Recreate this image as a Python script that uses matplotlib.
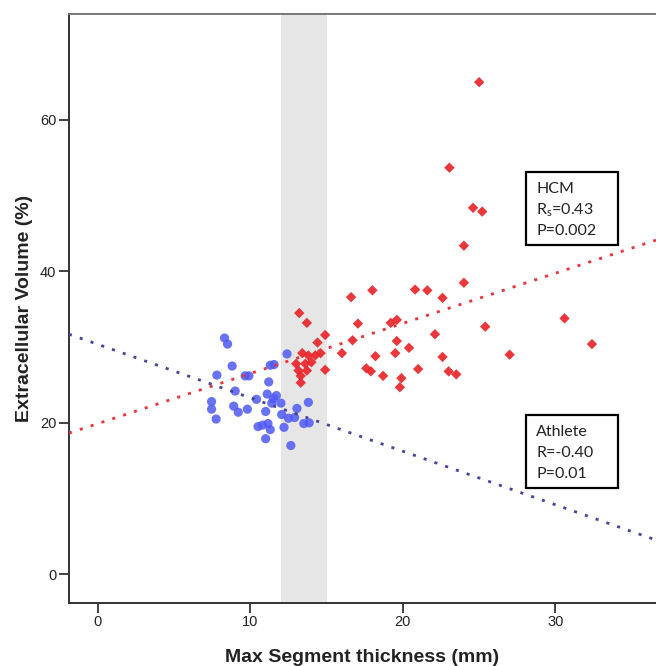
import matplotlib
matplotlib.use("Agg")
import matplotlib.pyplot as plt
from matplotlib.patches import Rectangle
import numpy as np

# ---- data ----
athlete_x = [8.3, 8.5, 12.4, 8.8, 11.3, 11.55, 7.8, 9.65, 9.9, 11.2, 9.0, 11.1,
             10.4, 11.5, 11.4, 12.0, 7.45, 7.45, 8.9, 9.2, 9.8, 11.0, 12.05, 7.75,
             13.8, 13.05, 12.5, 12.9, 12.2, 13.5, 13.85, 10.5, 10.8, 11.15, 11.3,
             11.0, 12.65, 11.7]
athlete_y = [31.2, 30.4, 29.1, 27.5, 27.6, 27.7, 26.3, 26.2, 26.2, 25.4, 24.2, 23.8,
             23.1, 23.2, 22.6, 22.6, 22.8, 21.8, 22.2, 21.4, 21.8, 21.5, 21.1, 20.5,
             22.7, 21.9, 20.6, 20.7, 19.4, 19.9, 20.0, 19.5, 19.7, 19.9, 19.1,
             17.9, 17.0, 23.6]

hcm_x = [25.0, 23.05, 24.6, 25.2, 24.0, 24.0, 21.6, 20.8, 18.0, 16.6, 22.6, 30.6,
         25.4, 22.1, 17.05, 19.2, 19.6, 32.4, 16.7, 19.6, 27.0, 22.6, 16.0, 18.2,
         19.5, 20.4, 17.6, 17.9, 18.7, 21.0, 19.9, 19.8, 23.0, 23.5, 13.2, 13.7,
         14.9, 14.4, 13.4, 13.8, 14.25, 14.6, 13.0, 13.6, 14.0, 13.15, 13.7, 14.9,
         13.3, 13.3]
hcm_y = [65.0, 53.7, 48.4, 47.9, 43.4, 38.5, 37.5, 37.6, 37.5, 36.6, 36.5, 33.8,
         32.7, 31.7, 33.1, 33.2, 33.6, 30.4, 30.9, 30.8, 29.0, 28.7, 29.2, 28.8,
         29.2, 29.9, 27.2, 26.8, 26.2, 27.1, 25.9, 24.7, 26.8, 26.4, 34.5, 33.2,
         31.6, 30.6, 29.2, 28.9, 28.9, 29.2, 27.8, 27.8, 28.0, 26.9, 26.9, 27.0,
         26.2, 25.3]

# fitted lines (intercept, slope)
hcm_fit = (19.9, 0.662)
athlete_fit = (30.36, -0.706)

band = (12.0, 15.0)
x_range = (-1.9, 36.6)
y_range = (-3.8, 74.0)
x_ticks = [0, 10, 20, 30]
y_ticks = [0, 20, 40, 60]

hcm_text = ["HCM", r"R$_\mathregular{s}$=0.43", "P=0.002"]
ath_text = ["Athlete", "R=-0.40", "P=0.01"]

# ---- figure ----
W, H = 656, 666
fig = plt.figure(figsize=(W / 100, H / 100), dpi=100)
ax = fig.add_axes([69 / W, 1 - 603 / H, (W - 69) / W, (603 - 14) / H])

ax.axvspan(band[0], band[1], color="#e6e6e6", zorder=0, lw=0)

ax.scatter(athlete_x, athlete_y, s=44, marker="o", color="#5059f3", alpha=0.85,
           edgecolors="none", zorder=2)
ax.scatter(hcm_x, hcm_y, s=28, marker="D", color="#e8262b", alpha=0.92,
           edgecolors="none", zorder=2)

xl = np.array(x_range)
ax.plot(xl, hcm_fit[0] + hcm_fit[1] * xl, color="#e8343a", lw=2.0,
        linestyle=(0, (1.1, 3.0)), zorder=3)
ax.plot(xl, athlete_fit[0] + athlete_fit[1] * xl, color="#45459a", lw=2.0,
        linestyle=(0, (1.1, 3.0)), zorder=3)

ax.set_xlim(*x_range)
ax.set_ylim(*y_range)
ax.set_xticks(x_ticks)
ax.set_yticks(y_ticks)

for lab in ax.get_xticklabels() + ax.get_yticklabels():
    lab.set_family("Liberation Sans")
    lab.set_fontsize(10.5)
    lab.set_color("#222222")
ax.tick_params(axis="both", direction="out", length=7, width=1.3, color="#333333", pad=2)

for side in ["left", "bottom"]:
    ax.spines[side].set_color("#333333")
    ax.spines[side].set_linewidth(1.4)
ax.spines["top"].set_color("#777777")
ax.spines["top"].set_linewidth(1.4)
ax.spines["right"].set_visible(False)

ax.set_xlabel("Max Segment thickness (mm)", family="Liberation Sans", fontweight="bold",
              fontsize=14, color="#222222", labelpad=14)
ax.set_ylabel("Extracellular Volume (%)", family="Liberation Sans", fontweight="bold",
              fontsize=14, color="#222222", labelpad=5)


def px_box(x0, y0, x1, y1, lines, baselines):
    rect = Rectangle((x0 / W, 1 - y1 / H), (x1 - x0) / W, (y1 - y0) / H,
                     transform=fig.transFigure, facecolor="white", edgecolor="black",
                     lw=1.6, zorder=5)
    fig.patches.append(rect)
    for t, b in zip(lines, baselines):
        fig.text((x0 + 10) / W, 1 - b / H, t, family=["Lato", "DejaVu Sans"], fontsize=11.5,
                 color="#222222", va="baseline", ha="left", zorder=6)


px_box(526, 172, 618, 245, hcm_text, [193, 214, 235])
px_box(526, 415, 618, 488, ath_text, [436, 457, 478])

fig.savefig("out.png", dpi=100)
